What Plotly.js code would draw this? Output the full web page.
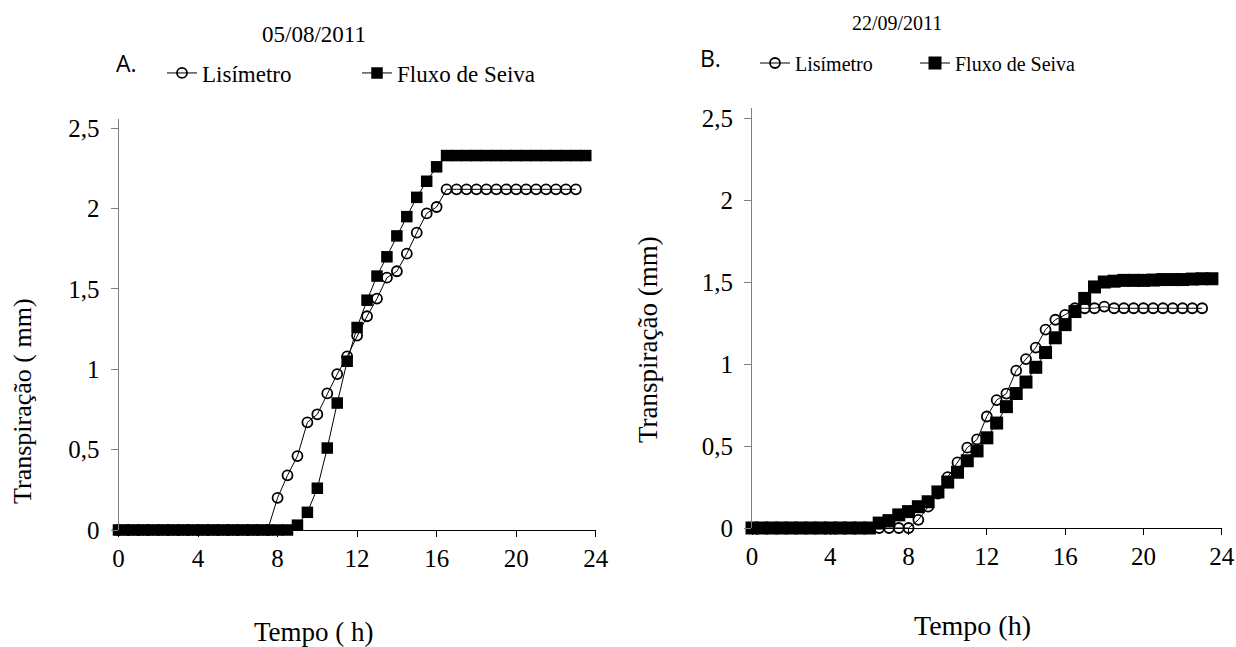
<!DOCTYPE html>
<html><head><meta charset="utf-8">
<script src="https://cdn.plot.ly/plotly-3.0.1.min.js"></script>
<style>html,body{margin:0;padding:0;background:#fff}#chart{width:1236px;height:647px}</style>
</head><body><div id="chart"></div>
<script>
// Panel A (05/08/2011)
const hoursLisA = [0,0.5,1,1.5,2,2.5,3,3.5,4,4.5,5,5.5,6,6.5,7,7.5,8,8.5,9,9.5,10,10.5,11,11.5,12,12.5,13,13.5,14,14.5,15,15.5,16,16.5,17,17.5,18,18.5,19,19.5,20,20.5,21,21.5,22,22.5,23];
const lisA = [0,0,0,0,0,0,0,0,0,0,0,0,0,0,0,0,
  0.20,0.34,0.46,0.67,0.72,0.85,0.97,1.08,1.21,1.33,1.44,1.57,1.61,1.72,1.85,1.97,2.01,
  2.12,2.12,2.12,2.12,2.12,2.12,2.12,2.12,2.12,2.12,2.12,2.12,2.12,2.12];
const hoursFluxA = [0,0.5,1,1.5,2,2.5,3,3.5,4,4.5,5,5.5,6,6.5,7,7.5,8,8.5,9,9.5,10,10.5,11,11.5,12,12.5,13,13.5,14,14.5,15,15.5,16,16.5,17,17.5,18,18.5,19,19.5,20,20.5,21,21.5,22,22.5,23,23.5];
const fluxA = [0,0,0,0,0,0,0,0,0,0,0,0,0,0,0,0,0,0,
  0.03,0.11,0.26,0.51,0.79,1.05,1.26,1.43,1.58,1.70,1.83,1.95,2.07,2.17,2.26,
  2.33,2.33,2.33,2.33,2.33,2.33,2.33,2.33,2.33,2.33,2.33,2.33,2.33,2.33,2.33];

// Panel B (22/09/2011)
const hoursLisB = [0,0.5,1,1.5,2,2.5,3,3.5,4,4.5,5,5.5,6,6.5,7,7.5,8,8.5,9,9.5,10,10.5,11,11.5,12,12.5,13,13.5,14,14.5,15,15.5,16,16.5,17,17.5,18,18.5,19,19.5,20,20.5,21,21.5,22,22.5,23];
const lisB = [0,0,0,0,0,0,0,0,0,0,0,0,0,0,0,0,0,
  0.05,0.13,0.21,0.31,0.40,0.49,0.54,0.68,0.78,0.82,0.96,1.03,1.10,1.21,1.27,1.30,1.34,
  1.34,1.34,1.35,1.34,1.34,1.34,1.34,1.34,1.34,1.34,1.34,1.34,1.34];
const hoursFluxB = [0,0.5,1,1.5,2,2.5,3,3.5,4,4.5,5,5.5,6,6.5,7,7.5,8,8.5,9,9.5,10,10.5,11,11.5,12,12.5,13,13.5,14,14.5,15,15.5,16,16.5,17,17.5,18,18.5,19,19.5,20,20.5,21,21.5,22,22.5,23,23.5];
const fluxB = [0,0,0,0,0,0,0,0,0,0,0,0,0,
  0.03,0.045,0.08,0.10,0.13,0.16,0.22,0.28,0.34,0.41,0.47,0.55,0.64,0.74,0.82,0.89,0.98,1.07,1.16,1.24,1.32,1.40,1.47,1.50,
  1.505,1.51,1.51,1.51,1.512,1.515,1.515,1.515,1.518,1.52,1.52];

const xTickVals = [0,4,8,12,16,20,24];
const xTickText = ['0','4','8','12','16','20','24'];
const yTickVals = [0,0.5,1,1.5,2,2.5];
const yTickText = ['0','0,5','1','1,5','2','2,5'];

const seriesNames = ['Lisímetro','Fluxo de Seiva'];
const dateA = '05/08/2011', dateB = '22/09/2011';
const xTitleA = 'Tempo ( h)', xTitleB = 'Tempo (h)';
const yTitleA = 'Transpiração ( mm)', yTitleB = 'Transpiração (mm)';

const SERIF = 'Liberation Serif, Times New Roman, serif';
const W = 1236, H = 647;

const lisStyle = {mode:'lines+markers', line:{color:'#000', width:1},
  marker:{symbol:'circle-open', size:10, color:'#000', line:{width:1.8, color:'#000'}}, cliponaxis:false};

const traces = [
  Object.assign({x:hoursLisA, y:lisA, name:seriesNames[0], xaxis:'x', yaxis:'y', legend:'legend'}, lisStyle),
  {x:hoursFluxA, y:fluxA, name:seriesNames[1], xaxis:'x', yaxis:'y', legend:'legend',
    mode:'lines+markers', line:{color:'#000', width:1}, marker:{symbol:'square', size:11.5, color:'#000'}, cliponaxis:false},
  Object.assign({x:hoursLisB, y:lisB, name:seriesNames[0], xaxis:'x2', yaxis:'y2', legend:'legend2'}, lisStyle),
  {x:hoursFluxB, y:fluxB, name:seriesNames[1], xaxis:'x2', yaxis:'y2', legend:'legend2',
    mode:'lines+markers', line:{color:'#000', width:1}, marker:{symbol:'square', size:13, color:'#000'}, cliponaxis:false}
];

function xax(dom, anchor){
  return {domain:dom, anchor:anchor, range:[0,24], tickmode:'array', tickvals:xTickVals, ticktext:xTickText,
    ticks:'outside', ticklen:6, tickcolor:'#000', showline:true, linecolor:'#000', linewidth:1.3,
    showgrid:false, zeroline:false, tickfont:{family:SERIF, size:25, color:'#000'}, fixedrange:true};
}
function yax(dom, anchor){
  return {domain:dom, anchor:anchor, range:[0,2.56], tickmode:'array', tickvals:yTickVals, ticktext:yTickText,
    ticks:'outside', ticklen:7, tickcolor:'#808080', showline:true, linecolor:'#808080', linewidth:1,
    ticklabelstandoff:6,
    showgrid:false, zeroline:false, tickfont:{family:SERIF, size:25, color:'#000'}, fixedrange:true};
}

const layout = {
  width:W, height:H, margin:{l:0,r:0,t:0,b:0}, paper_bgcolor:'#fff', plot_bgcolor:'#fff',
  font:{family:SERIF, color:'#000'},
  showlegend:true,
  xaxis: xax([118.5/W, 595.7/W], 'y'),
  yaxis: yax([(H-530)/H, (H-118.6)/H], 'x'),
  xaxis2: xax([752/W, 1221.7/W], 'y2'),
  yaxis2: yax([(H-528)/H, (H-108.2)/H], 'x2'),
  legend:{orientation:'h', x:162/W, xanchor:'left', y:(H-73)/H, yanchor:'middle',
    font:{family:SERIF, size:23, color:'#000'}, bgcolor:'rgba(0,0,0,0)', itemwidth:30, traceorder:'normal',
    entrywidth:150, entrywidthmode:'pixels'},
  legend2:{orientation:'h', x:755/W, xanchor:'left', y:(H-63)/H, yanchor:'middle',
    font:{family:SERIF, size:20, color:'#000'}, bgcolor:'rgba(0,0,0,0)', itemwidth:30, traceorder:'normal',
    entrywidth:115, entrywidthmode:'pixels'},
  annotations:[
    {text:dateA, x:314/W, y:(H-34)/H, xref:'paper', yref:'paper', showarrow:false, xanchor:'center', yanchor:'middle',
      font:{family:SERIF, size:23, color:'#000'}},
    {text:dateB, x:897/W, y:(H-23)/H, xref:'paper', yref:'paper', showarrow:false, xanchor:'center', yanchor:'middle',
      font:{family:SERIF, size:20, color:'#000'}},
    {text:'A.', x:114/W, y:(H-63)/H, xref:'paper', yref:'paper', showarrow:false, xanchor:'left', yanchor:'middle',
      font:{family:'Open Sans, sans-serif', size:23, color:'#000'}},
    {text:'B.', x:698/W, y:(H-58)/H, xref:'paper', yref:'paper', showarrow:false, xanchor:'left', yanchor:'middle',
      font:{family:'Open Sans, sans-serif', size:23, color:'#000'}},
    {text:xTitleA, x:314/W, y:(H-632)/H, xref:'paper', yref:'paper', showarrow:false, xanchor:'center', yanchor:'middle',
      font:{family:SERIF, size:27, color:'#000'}},
    {text:xTitleB, x:972/W, y:(H-625)/H, xref:'paper', yref:'paper', showarrow:false, xanchor:'center', yanchor:'middle',
      font:{family:SERIF, size:28, color:'#000'}},
    {text:yTitleA, x:22/W, y:(H-401)/H, xref:'paper', yref:'paper', showarrow:false, xanchor:'center', yanchor:'middle',
      textangle:-90, font:{family:SERIF, size:26, color:'#000'}},
    {text:yTitleB, x:648/W, y:(H-340)/H, xref:'paper', yref:'paper', showarrow:false, xanchor:'center', yanchor:'middle',
      textangle:-90, font:{family:SERIF, size:27, color:'#000'}}
  ]
};

Plotly.newPlot('chart', traces, layout, {staticPlot:true, displayModeBar:false});
</script>
</body></html>
